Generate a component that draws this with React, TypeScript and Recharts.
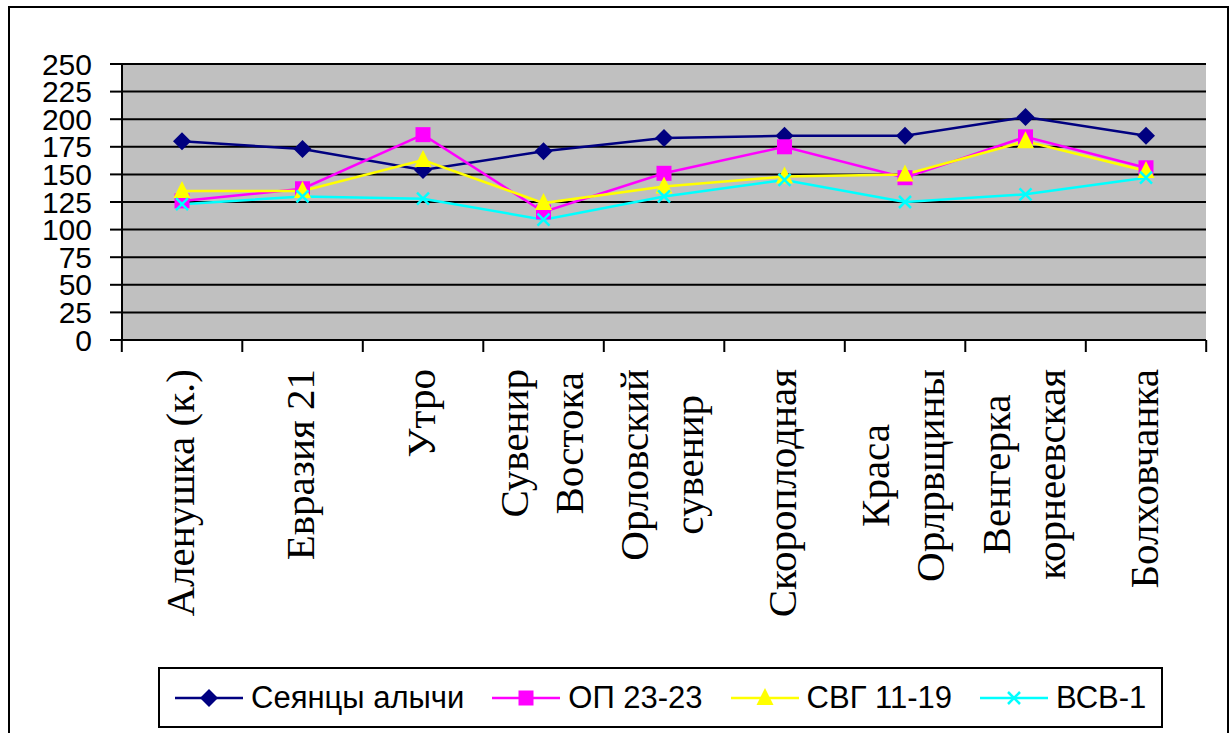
import React from "react";
import {
  LineChart,
  Line,
  XAxis,
  YAxis,
  CartesianGrid,
  Legend,
} from "recharts";

// сорта (перенос строки — как в подписи оси)
const categories = [
  "Аленушка (к.)",
  "Евразия 21",
  "Утро",
  "Сувенир\nВостока",
  "Орловский\nсувенир",
  "Скороплодная",
  "Краса\nОрлрвщины",
  "Венгерка\nкорнеевская",
  "Болховчанка",
];

const seyantsy = [180, 173, 154, 171, 183, 185, 185, 202, 185];
const op2323 = [126, 137, 186, 116, 151, 175, 147, 184, 156];
const svg1119 = [135, 135, 163, 124, 139, 148, 150, 180, 153];
const vsv1 = [123, 130, 128, 109, 130, 145, 125, 132, 147];

const yTicks = [0, 25, 50, 75, 100, 125, 150, 175, 200, 225, 250];

const data = categories.map((name, i) => ({
  name,
  s1: seyantsy[i],
  s2: op2323[i],
  s3: svg1119[i],
  s4: vsv1[i],
}));

const SERIF = '"Liberation Serif", "Times New Roman", serif';
const SANS = '"Liberation Sans", Arial, sans-serif';
const LABEL_SIZE = 41;
const LINE_GAP = 55;
const TICK_SIZE = 12;
const TICK_MARGIN = 17;
const HALF_BAND = 60.2;

type MarkerKind = "diamond" | "square" | "triangle" | "cross";

const Marker = ({ kind, cx, cy, color }: { kind: MarkerKind; cx: number; cy: number; color: string }) => {
  if (kind === "diamond")
    return <polygon points={`${cx},${cy - 9} ${cx + 9},${cy} ${cx},${cy + 9} ${cx - 9},${cy}`} fill={color} />;
  if (kind === "square") return <rect x={cx - 7.5} y={cy - 7.5} width={15} height={15} fill={color} />;
  if (kind === "triangle")
    return <polygon points={`${cx},${cy - 10} ${cx + 8.5},${cy + 7} ${cx - 8.5},${cy + 7}`} fill={color} />;
  return (
    <g stroke={color} strokeWidth={2.5}>
      <line x1={cx - 6} y1={cy - 6} x2={cx + 6} y2={cy + 6} />
      <line x1={cx - 6} y1={cy + 6} x2={cx + 6} y2={cy - 6} />
    </g>
  );
};

const series: { key: string; name: string; color: string; kind: MarkerKind }[] = [
  { key: "s1", name: "Сеянцы алычи", color: "#000080", kind: "diamond" },
  { key: "s2", name: "ОП 23-23", color: "#FF00FF", kind: "square" },
  { key: "s3", name: "СВГ 11-19", color: "#FFFF00", kind: "triangle" },
  { key: "s4", name: "ВСВ-1", color: "#00FFFF", kind: "cross" },
];

let ctx: CanvasRenderingContext2D | null = null;
const measure = (s: string) => {
  if (!ctx) ctx = document.createElement("canvas").getContext("2d");
  if (!ctx) return s.length * LABEL_SIZE * 0.5;
  ctx.font = `${LABEL_SIZE}px ${SERIF}`;
  return ctx.measureText(s).width;
};

// подписи сортов повёрнуты, строки центрированы относительно самой длинной
const CategoryTick = (props: any) => {
  const { x, y, payload, index } = props;
  const axisY = y - TICK_SIZE - TICK_MARGIN;
  const lines: string[] = String(payload.value).split("\n");
  const longest = Math.max(...lines.map(measure));
  const cy = y + longest / 2;
  const first = -((lines.length - 1) / 2) * LINE_GAP + 12;
  return (
    <g>
      <line x1={x - HALF_BAND} y1={axisY} x2={x - HALF_BAND} y2={axisY + TICK_SIZE} stroke="#000" strokeWidth={2} />
      {index === categories.length - 1 && (
        <line x1={x + HALF_BAND} y1={axisY} x2={x + HALF_BAND} y2={axisY + TICK_SIZE} stroke="#000" strokeWidth={2} />
      )}
      <text
        transform={`rotate(-90, ${x}, ${cy})`}
        x={x}
        y={cy}
        textAnchor="middle"
        fontFamily={SERIF}
        fontSize={LABEL_SIZE}
        fill="#000"
      >
        {lines.map((l, i) => (
          <tspan key={i} x={x} y={cy + first + i * LINE_GAP}>
            {l}
          </tspan>
        ))}
      </text>
    </g>
  );
};

const renderLegend = () => (
  <div
    style={{
      display: "flex",
      alignItems: "center",
      height: "100%",
      boxSizing: "border-box",
      border: "2px solid #000",
      background: "#fff",
      paddingLeft: 15,
      fontFamily: SANS,
      fontSize: 31,
      color: "#000",
    }}
  >
    {series.map((s) => (
      <div key={s.key} style={{ display: "flex", alignItems: "center", marginRight: 28 }}>
        <svg width={68} height={22}>
          <line x1={0} y1={11} x2={68} y2={11} stroke={s.color} strokeWidth={2.5} />
          <Marker kind={s.kind} cx={34} cy={11} color={s.color} />
        </svg>
        <span style={{ marginLeft: 8, whiteSpace: "nowrap" }}>{s.name}</span>
      </div>
    ))}
  </div>
);

const App: React.FC = () => {
  return (
    <div style={{ position: "absolute", left: 0, top: 0, width: 1231, height: 733, background: "#fff", overflow: "hidden" }}>
      {/* рамка области диаграммы */}
      <div
        style={{
          position: "absolute",
          left: 8,
          top: 6,
          width: 1221,
          height: 760,
          border: "2px solid #000",
          boxSizing: "border-box",
        }}
      />
      <div style={{ position: "absolute", left: 0, top: 0 }}>
        <LineChart width={1231} height={733} data={data} margin={{ top: 64, right: 25, bottom: 0, left: 0 }}>
          <CartesianGrid vertical={false} stroke="#000" strokeWidth={2} fill="#C0C0C0" fillOpacity={1} />
          <XAxis
            dataKey="name"
            height={393}
            interval={0}
            padding={{ left: 60, right: 60 }}
            axisLine={{ stroke: "#000", strokeWidth: 2 }}
            tickLine={false}
            tickSize={TICK_SIZE}
            tickMargin={TICK_MARGIN}
            tick={<CategoryTick />}
          />
          <XAxis
            xAxisId="top"
            dataKey="name"
            orientation="top"
            height={0}
            tick={false}
            tickLine={false}
            axisLine={{ stroke: "#808080", strokeWidth: 2 }}
          />
          <YAxis
            width={122}
            domain={[0, 250]}
            ticks={yTicks}
            interval={0}
            axisLine={{ stroke: "#000", strokeWidth: 2 }}
            tickLine={{ stroke: "#000", strokeWidth: 2 }}
            tickSize={12}
            tickMargin={18}
            tick={{ fill: "#000", fontFamily: SANS, fontSize: 30 }}
          />
          <YAxis
            yAxisId="right"
            orientation="right"
            width={0}
            tick={false}
            tickLine={false}
            axisLine={{ stroke: "#808080", strokeWidth: 2 }}
          />
          <Legend
            layout="horizontal"
            verticalAlign="middle"
            align="center"
            content={renderLegend}
            wrapperStyle={{ left: 158, top: 667, width: 1005, height: 61 }}
          />
          {series.map((s) => (
            <Line
              key={s.key}
              type="linear"
              dataKey={s.key}
              name={s.name}
              stroke={s.color}
              strokeWidth={2.5}
              isAnimationActive={false}
              dot={(p: any) => <Marker key={`${s.key}-${p.index}`} kind={s.kind} cx={p.cx} cy={p.cy} color={s.color} />}
              activeDot={false}
            />
          ))}
        </LineChart>
      </div>
    </div>
  );
};

export default App;
